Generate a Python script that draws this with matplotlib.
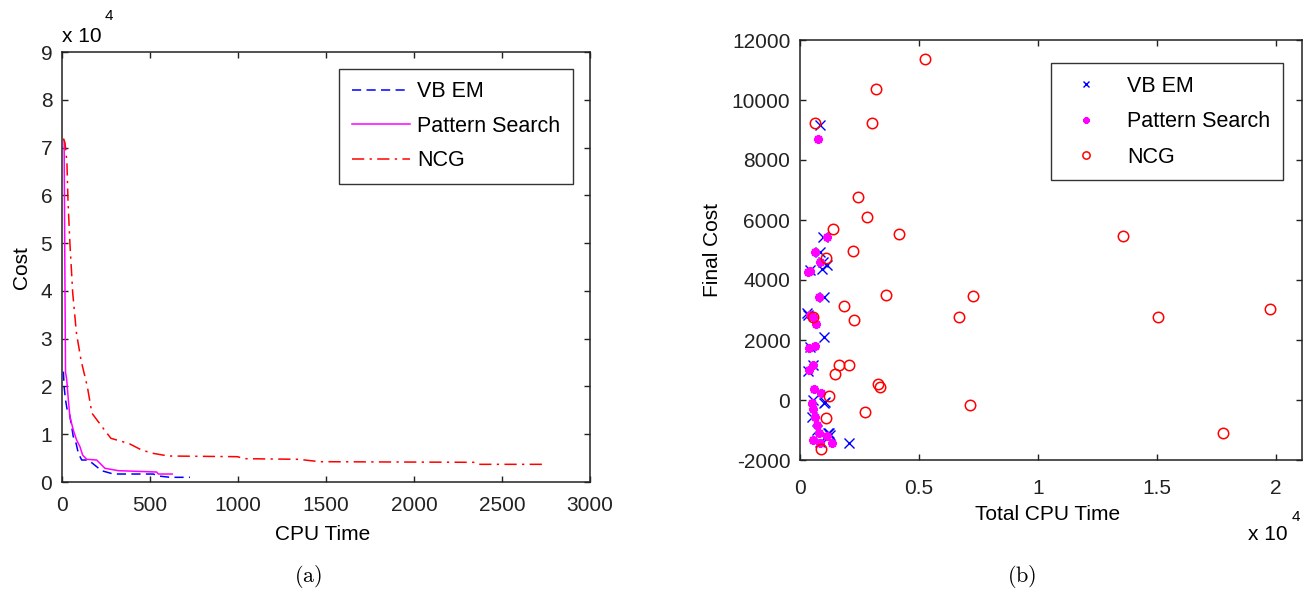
import numpy as np
import matplotlib
matplotlib.use("Agg")
import matplotlib.pyplot as plt
from matplotlib.ticker import FuncFormatter

plt.rcParams['font.family'] = ['Liberation Sans', 'DejaVu Sans']
plt.rcParams['mathtext.fontset'] = 'cm'
plt.rcParams['axes.unicode_minus'] = False

# ---------------------------------------------------------------------------
# (a) cost vs CPU time traces
# ---------------------------------------------------------------------------
vb_t = [8, 12, 20, 30, 42, 55, 64, 80, 93, 112, 150, 197, 225, 292, 519, 547, 614, 727]
vb_c = [23100, 20000, 17160, 15000, 14380, 11580, 9480, 8100, 6000, 4600, 4600, 3200, 2370,
        1670, 1670, 1260, 980, 980]

ps_t = [12, 17, 20, 27, 36, 45, 64, 83, 102, 117, 140, 197, 216, 244, 320, 538, 547, 626]
ps_c = [71500, 40000, 23000, 21350, 17160, 13670, 10880, 8790, 7390, 5650, 4750, 4600, 3910,
        2870, 2370, 2090, 1670, 1670]

ncg_t = [8, 17, 28, 34, 44, 61, 82, 108, 144, 170, 235, 278, 344, 386, 452, 517, 605, 996,
         1040, 1344, 1464, 2344, 2366, 2757]
ncg_c = [71900, 71000, 66800, 59000, 50600, 39500, 31200, 25500, 19950, 14400, 11200, 9140,
         8440, 7950, 6700, 6000, 5440, 5300, 4880, 4750, 4250, 4120, 3700, 3700]

# ---------------------------------------------------------------------------
# (b) final cost vs total CPU time, one point per run
# ---------------------------------------------------------------------------
vb_time = [840, 980, 840, 910, 1148, 1022, 280, 1008, 420, 350, 560, 1008, 490, 1190, 1260,
           2059, 840, 560, 420, 700, 1120, 1232, 1050, 350, 980]
vb_cost = [9167, 5443, 4943, 4357, 4500, 3443, 2890, 2090, 1777, 977, 1167, -90, -557, -1110,
           -1160, -1423, -1390, 0, 4330, -1000, -1277, -1090, -60, 2850, 4600]

ps_time = [742, 1148, 630, 840, 420, 336, 812, 420, 672, 630, 392, 560, 392, 602, 868, 490,
           560, 630, 728, 812, 560, 840, 1330, 1120, 540]
ps_cost = [8690, 5443, 4943, 4610, 4310, 4277, 3443, 2833, 2533, 1800, 1743, 1167, 1000, 357,
           243, -110, -310, -557, -833, -1110, -1333, -1423, -1423, -1200, 2777]

ncg_time = [5250, 3180, 617, 3039, 2430, 2829, 1390, 4146, 13560, 2241, 1085, 3614, 7283, 1863,
            6695, 15057, 2250, 540, 19750, 1639, 2050, 1465, 3264, 3362, 7143, 1200, 2731,
            1085, 17789, 868]
ncg_cost = [11360, 10357, 9223, 9223, 6777, 6100, 5690, 5533, 5477, 4967, 4740, 3500, 3467,
            3143, 2777, 2777, 2680, 2777, 3043, 1167, 1167, 870, 523, 443, -177, 150, -390,
            -590, -1110, -1620]

W, H = 1305, 592
FS = 15
FS_LEG = 15.5


def fx(x):
    return x / W


def fy(y):
    return 1 - y / H


fig = plt.figure(figsize=(W / 100, H / 100), dpi=100)
ax1 = fig.add_axes([fx(62), fy(482), 528 / W, 430 / H])
ax2 = fig.add_axes([fx(800), fy(460), 502 / W, 420 / H])

ax1.plot(vb_t, np.array(vb_c) / 1e4, color='blue', lw=1.1, ls=(0, (6, 3.5)), label='VB EM')
ax1.plot(ps_t, np.array(ps_c) / 1e4, color='magenta', lw=1.1, label='Pattern Search')
ax1.plot(ncg_t, np.array(ncg_c) / 1e4, color='red', lw=1.1, ls=(0, (8, 3.5, 1.5, 3.5)),
         label='NCG')
ax1.set_xlim(0, 3000)
ax1.set_ylim(0, 9)
ax1.set_xticks(np.arange(0, 3001, 500))
ax1.set_yticks(np.arange(0, 10, 1))

ax2.plot(np.array(vb_time) / 1e4, vb_cost, ls='none', marker='x', ms=6.5, mew=1.0,
         color='blue', label='VB EM')
ax2.plot(np.array(ps_time) / 1e4, ps_cost, ls='none', marker=(8, 2, 0), ms=6.5, mew=1.6,
         color='magenta', label='Pattern Search')
ax2.plot(np.array(ncg_time) / 1e4, ncg_cost, ls='none', marker='o', ms=7.5, mew=1.1,
         mfc='none', mec='red', label='NCG')
ax2.set_xlim(0, 2.11)
ax2.set_ylim(-2000, 12000)
ax2.set_xticks([0, 0.5, 1, 1.5, 2])
ax2.set_yticks(np.arange(-2000, 12001, 2000))
ax2.xaxis.set_major_formatter(FuncFormatter(lambda v, p: '%g' % v))

for ax in (ax1, ax2):
    ax.tick_params(direction='in', top=True, right=True, length=4, width=1,
                   labelsize=FS, colors='#222222', labelcolor='#222222')
    for s in ax.spines.values():
        s.set_linewidth(1.1)
        s.set_color('#222222')
ax1.tick_params(axis='x', pad=10)
ax1.tick_params(axis='y', pad=7)
ax2.tick_params(axis='x', pad=14)
ax2.tick_params(axis='y', pad=7)

leg1 = ax1.legend(loc='upper right', bbox_to_anchor=(0.968, 0.9605), fontsize=FS_LEG,
                  frameon=True, fancybox=False, edgecolor='black', handlelength=2.7,
                  handletextpad=0.35, labelspacing=0.62, borderpad=0.58, borderaxespad=0)
leg1.get_frame().set_linewidth(1.0)
leg2 = ax2.legend(loc='upper right', bbox_to_anchor=(0.962, 0.945), fontsize=FS_LEG,
                  frameon=True, fancybox=False, edgecolor='black', handlelength=2.1,
                  handletextpad=0.85, labelspacing=0.68, borderpad=0.58, borderaxespad=0,
                  markerscale=0.7)
leg2.get_frame().set_linewidth(1.0)

# axis labels and multipliers
fig.text(fx(323), fy(535), 'CPU Time', ha='center', va='center', fontsize=FS)
fig.text(fx(21), fy(268), 'Cost', ha='center', va='center', fontsize=FS, rotation=90)
fig.text(fx(62), fy(37), 'x 10', ha='left', va='center', fontsize=FS)
fig.text(fx(105), fy(16), '4', ha='left', va='center', fontsize=11)

fig.text(fx(1048), fy(515), 'Total CPU Time', ha='center', va='center', fontsize=FS)
fig.text(fx(712), fy(250), 'Final Cost', ha='center', va='center', fontsize=FS, rotation=90)
fig.text(fx(1248), fy(535), 'x 10', ha='left', va='center', fontsize=FS)
fig.text(fx(1292), fy(517), '4', ha='left', va='center', fontsize=11)

fig.text(fx(308), fy(576), r'$\mathrm{(a)}$', ha='center', va='center', fontsize=16)
fig.text(fx(1022), fy(576), r'$\mathrm{(b)}$', ha='center', va='center', fontsize=16)

fig.savefig('out.png', dpi=100, facecolor='white')
